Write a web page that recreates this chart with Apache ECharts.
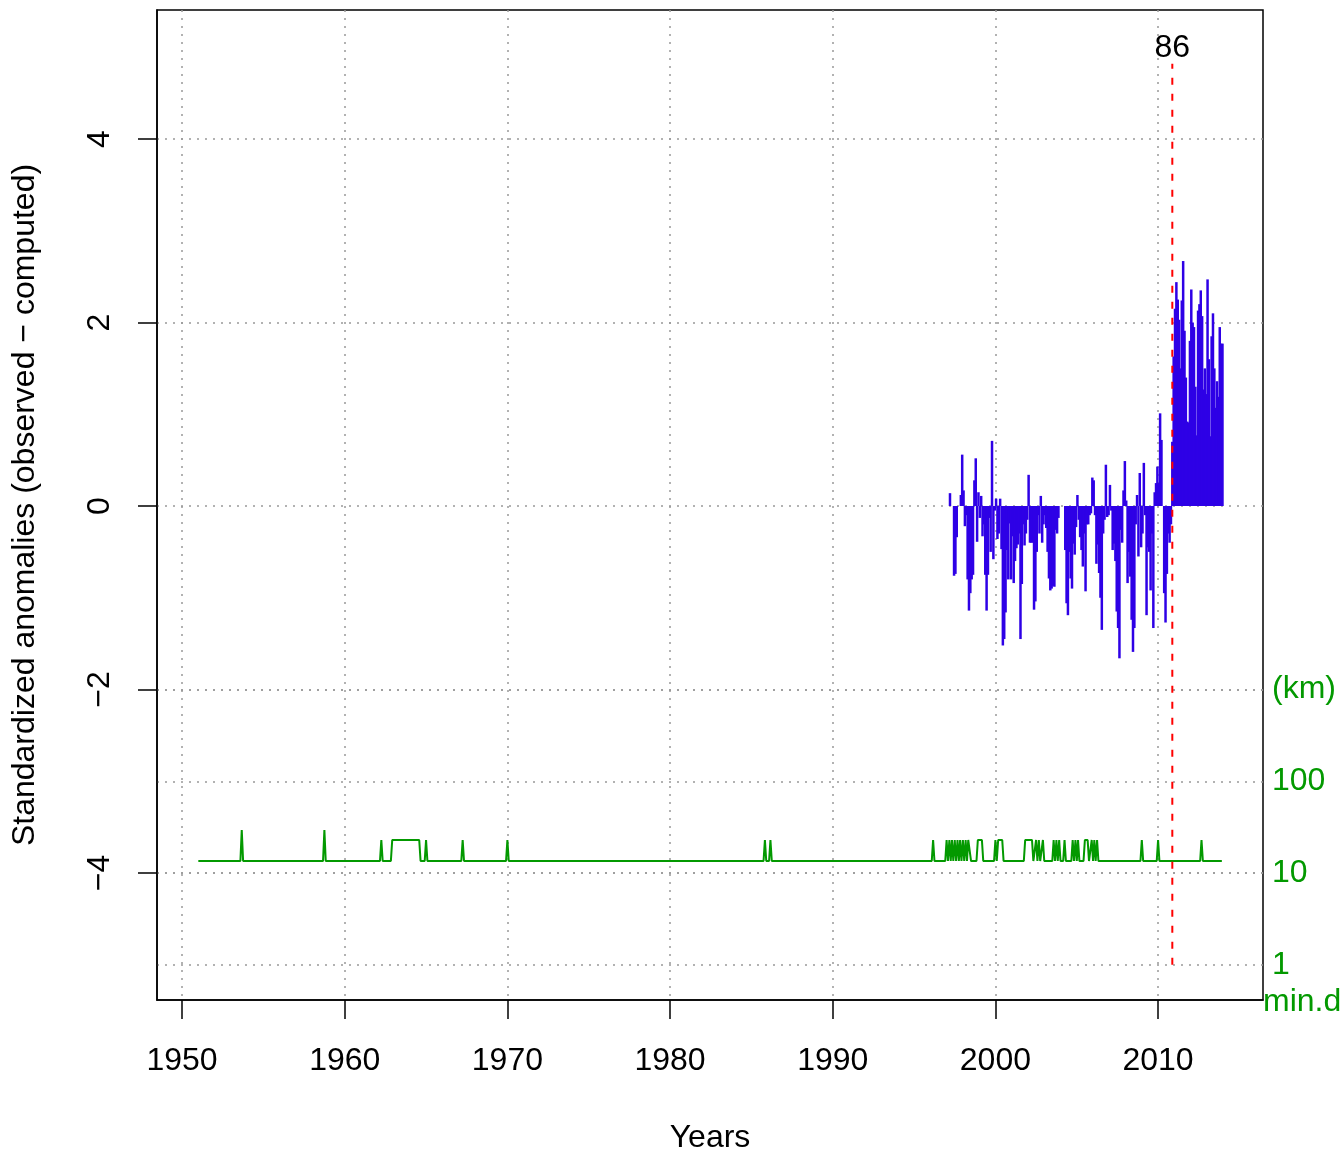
<!DOCTYPE html>
<html><head><meta charset="utf-8">
<script src="https://cdn.jsdelivr.net/npm/echarts@6/dist/echarts.min.js"></script>
<style>html,body{margin:0;padding:0;background:#fff}#c{width:1344px;height:1152px}</style>
</head><body><div id="c"></div>
<script>
// ---- data ----
const xTicks = [1950, 1960, 1970, 1980, 1990, 2000, 2010];
const yTicks = [-4, -2, 0, 2, 4];
const kmTicks = [1, 10, 100, 1000];
const anomStartYear = 1997, anomStartMonth = 3;
// monthly standardized anomalies, Mar 1997 .. Dec 2013 (null = missing)
const anomalies = [
  0.14, null, null, -0.76, -0.74, -0.34, null, null, 0.12, 0.56,
  0.17, -0.22, -0.1, -0.8, -1.14, -0.95, -0.8, -0.75, 0.28, 0.52, -0.39, 0.15,
  -0.13, 0.11, -0.33, -0.2, -0.75, -1.14, -0.75, -0.13, -0.5, 0.71, -0.58, -0.05,
  0.08, -0.36, -0.3, 0.08, -0.47, -1.52, -1.45, -1.16, -0.48, -0.8, -0.19, -0.8,
  -0.33, -0.84, -0.6, -0.46, -0.42, -0.3, -1.45, -0.85, -0.2, -0.43, -0.3, -0.15,
  0.34, -0.4, -0.4, -0.4, -1.13, -1.04, -0.5, -0.1, -0.3, 0.11, -0.4, -0.2,
  -0.1, -0.24, -0.5, -0.79, -0.92, -0.9, -0.87, -0.88, -0.26, -0.3, -0.13, null,
  null, null, null, -0.48, -1.06, -1.19, -0.5, -0.79, -0.9, -0.41, -0.53, -0.23,
  0.12, -0.15, -0.34, -0.48, -0.66, -0.3, -0.93, -0.2, -0.2, -0.1, -0.08, 0.31,
  0.28, -0.1, -0.63, -0.42, -0.73, -1.0, -1.35, -0.3, -0.15, 0.45, -0.12, -0.1,
  0.23, -0.05, -0.48, -0.41, -0.6, -1.15, -1.33, -1.66, -0.26, -0.4, 0.17, 0.49,
  0.06, -0.84, -0.5, -0.77, -1.24, -1.59, -1.33, -0.2, 0.12, -0.55, 0.36, -0.45,
  -0.3, 0.47, -0.1, -1.19, -0.45, -0.5, -0.92, -0.3, -1.33, 0.15, 0.25, 0.43,
  0.25, 1.01, 0.72, null, -0.95, -1.27, -0.74, -0.3, -0.4, -0.2, 0.70, 1.63,
  2.15, 2.44, 2.25, 2.03, 1.5, 2.24, 2.67, 1.91, 1.4, 0.92, 0.91, 1.8,
  2.36, 2.0, 1.95, 1.3, 0.77, 2.13, 2.2, 2.35, 2.07, 1.27, 1.5, 1.22,
  2.47, 1.6, 0.76, 1.85, 2.1, 1.5, 1.07, 1.36, 1.19, 1.95, 1.77, 1.77
];
// minimum distance to nearest neighbour (km)
const minDistFrom = 1951.0, minDistTo = 2013.92;
const minDistBase = 13.5;
// [first month, last month, km] periods where min.d rises above base
const minDistEvents = [
  [1953.67, 1953.67, 29.4], [1958.75, 1958.75, 29.4],
  [1962.25, 1962.25, 22.9], [1962.92, 1964.58, 22.9], [1965.0, 1965.0, 22.9],
  [1967.25, 1967.25, 22.9], [1970.0, 1970.0, 22.9],
  [1985.83, 1985.83, 22.9], [1986.17, 1986.17, 22.9],
  [1996.17, 1996.17, 22.9],
  [1997.0, 1997.0, 22.9], [1997.17, 1997.17, 22.9], [1997.33, 1997.33, 22.9],
  [1997.5, 1997.5, 22.9], [1997.67, 1997.67, 22.9], [1997.83, 1997.83, 22.9],
  [1998.0, 1998.0, 22.9], [1998.17, 1998.17, 22.9], [1998.33, 1998.42, 22.9],
  [1998.92, 1999.17, 22.9],
  [2000.0, 2000.0, 22.9], [2000.17, 2000.42, 22.9],
  [2001.83, 2002.25, 22.9], [2002.5, 2002.5, 22.9], [2002.67, 2002.67, 22.9], [2002.92, 2002.92, 22.9],
  [2003.58, 2003.58, 22.9], [2003.75, 2003.75, 22.9], [2003.92, 2003.92, 22.9],
  [2004.25, 2004.25, 22.9],
  [2004.75, 2004.75, 22.9], [2004.92, 2004.92, 22.9], [2005.08, 2005.08, 22.9],
  [2005.5, 2005.67, 22.9],
  [2005.92, 2005.92, 22.9], [2006.08, 2006.08, 22.9], [2006.25, 2006.25, 22.9],
  [2009.0, 2009.0, 22.9], [2010.0, 2010.0, 22.9], [2012.67, 2012.67, 22.9]
];
const breakYear = 2010.875;
const breakLabel = '86';
const breakLineRange = [-5, 4.82];
const breakLabelY = 4.99;

// ---- build ----
const FONT = '"Liberation Sans", Arial, Helvetica, sans-serif';
const xMin = 1948.46, xMax = 2016.45;
const yMin = -5.384, yMax = 5.406;

const anomData = [];
anomalies.forEach((v, i) => {
  if (v === null) return;
  const m = anomStartMonth - 1 + i;
  anomData.push([anomStartYear + (m + 0.5) / 12, v]);
});

const M = 1 / 12;
const greenData = [[minDistFrom, minDistBase]];
minDistEvents.forEach(([s, e, km]) => {
  greenData.push([s - M, minDistBase], [s, km], [e, km], [e + M, minDistBase]);
});
greenData.push([minDistTo, minDistBase]);

const minus = v => (v < 0 ? '\u2212' + Math.abs(v) : String(v));
const txt = { fontFamily: FONT, fontSize: 32, color: '#000' };

const chart = echarts.init(document.getElementById('c'), null, { renderer: 'canvas' });
chart.setOption({
  animation: false,
  backgroundColor: '#fff',
  grid: { left: 157, top: 10, width: 1106, height: 990, show: true, borderColor: '#000', borderWidth: 1.5, backgroundColor: 'transparent', containLabel: false, outerBoundsMode: 'none' },
  xAxis: {
    type: 'value', min: xMin, max: xMax,
    axisLine: { show: true, onZero: false, lineStyle: { color: '#000', width: 1.5 } },
    axisTick: { show: true, customValues: xTicks, length: 19, lineStyle: { color: '#000', width: 1.5 } },
    axisLabel: Object.assign({ customValues: xTicks, margin: 45, formatter: v => String(v) }, txt),
    splitLine: { show: true, lineStyle: { color: '#999', type: [2, 6], width: 1.5 } },
    name: 'Years', nameLocation: 'middle', nameGap: 122, nameTextStyle: txt
  },
  yAxis: [{
    type: 'value', min: yMin, max: yMax, position: 'left',
    axisLine: { show: true, onZero: false, lineStyle: { color: '#000', width: 1.5 } },
    axisTick: { show: true, customValues: yTicks, length: 19, lineStyle: { color: '#000', width: 1.5 } },
    axisLabel: Object.assign({ customValues: yTicks, margin: 41, rotate: 90, formatter: minus }, txt),
    splitLine: { show: true, lineStyle: { color: '#999', type: [2, 6], width: 1.5 } },
    name: 'Standardized anomalies (observed \u2212 computed)', nameLocation: 'middle', nameGap: 116, nameRotate: 90, nameTextStyle: txt
  }, {
    type: 'log', logBase: 10, min: Math.pow(10, yMin + 5), max: Math.pow(10, yMax + 5), position: 'right',
    axisLine: { show: false },
    axisTick: { show: false, customValues: kmTicks },
    axisLabel: Object.assign({}, txt, { customValues: kmTicks, margin: 9, color: '#039900', align: 'left',
      padding: [4, 0, 0, 0],
      formatter: v => (Math.abs(Math.log10(v) - 3) < 1e-6 ? '(km)' : String(Math.round(v))) }),
    splitLine: { show: true, lineStyle: { color: '#999', type: [2, 6], width: 1.5 } },
    name: 'min.d', nameLocation: 'start', nameGap: 2,
    nameTextStyle: Object.assign({}, txt, { color: '#039900', align: 'left', verticalAlign: 'middle' })
  }],
  series: [{
    type: 'bar', name: 'anomalies', xAxisIndex: 0, yAxisIndex: 0, data: anomData,
    barWidth: 2.5, itemStyle: { color: '#2E00E6' }, z: 3, silent: true
  }, {
    type: 'line', name: 'min.d', yAxisIndex: 1, data: greenData, showSymbol: false, symbol: 'none',
    lineStyle: { color: '#039900', width: 2 }, z: 3, silent: true
  }, {
    type: 'line', name: 'break', yAxisIndex: 0,
    data: breakLineRange.map(v => [breakYear, v]), showSymbol: false, symbol: 'none',
    lineStyle: { color: '#FF0000', width: 2, type: [7, 9] }, z: 6, silent: true
  }, {
    type: 'scatter', yAxisIndex: 0, data: [[breakYear, breakLabelY]], symbolSize: 1,
    itemStyle: { color: '#ffffff', opacity: 0 },
    label: Object.assign({ show: true, position: ['50%', '50%'], align: 'center', verticalAlign: 'middle', formatter: breakLabel, opacity: 1 }, txt), z: 7, silent: true
  }]
});
</script>
</body></html>
